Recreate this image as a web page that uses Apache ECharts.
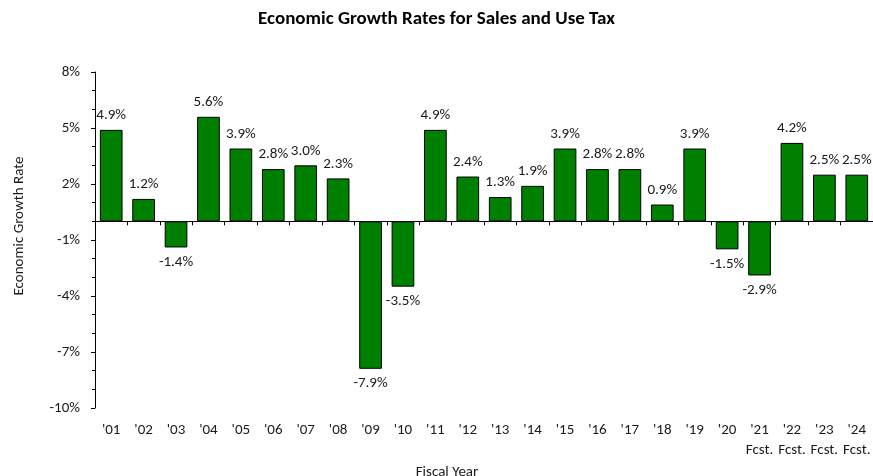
<!DOCTYPE html>
<html>
<head>
<meta charset="utf-8">
<script src="https://cdn.jsdelivr.net/npm/echarts@6/dist/echarts.min.js"></script>
<style>
  html, body { margin: 0; padding: 0; background: #fff; }
  #chart { width: 873px; height: 476px; }
</style>
</head>
<body>
<div id="chart"></div>
<script>
// Fiscal years and annual growth rates (%); '21–'24 are forecasts
const fiscalYears = ["'01", "'02", "'03", "'04", "'05", "'06", "'07", "'08", "'09", "'10",
  "'11", "'12", "'13", "'14", "'15", "'16", "'17", "'18", "'19", "'20",
  "'21", "'22", "'23", "'24"];
const forecastYears = ["'21", "'22", "'23", "'24"];
const growthRates = [4.9, 1.2, -1.4, 5.6, 3.9, 2.8, 3.0, 2.3, -7.9, -3.5,
  4.9, 2.4, 1.3, 1.9, 3.9, 2.8, 2.8, 0.9, 3.9, -1.5,
  -2.9, 4.2, 2.5, 2.5];
const yTicks = { min: -10, max: 8, step: 3 };

const FONT = 'Carlito, Lato, "Liberation Sans", sans-serif';
const TEXT = '#1a1a1a';

const yearLabels = fiscalYears.map(y => forecastYears.includes(y) ? y + '\nFcst.' : y);

const chart = echarts.init(document.getElementById('chart'), null, { renderer: 'canvas' });

chart.setOption({
  animation: false,
  textStyle: { fontFamily: FONT, color: TEXT },
  title: {
    text: 'Economic Growth Rates for Sales and Use Tax',
    left: 'center',
    top: 5,
    padding: [5, 0, 5, 12],
    textStyle: { fontFamily: FONT, fontSize: 19, fontWeight: 'bold', color: '#000' }
  },
  grid: { left: 95, right: 0, top: 72, bottom: 68, outerBoundsMode: 'none', containLabel: false },
  xAxis: [
    {
      // category labels along the bottom of the plot
      type: 'category',
      data: yearLabels,
      position: 'bottom',
      axisLine: { show: false, onZero: false },
      axisTick: { show: false },
      axisLabel: {
        interval: 0, margin: 12, fontFamily: FONT, fontSize: 15, color: TEXT, lineHeight: 20
      },
      name: 'Fiscal Year',
      nameLocation: 'middle',
      nameGap: 50,
      nameTextStyle: { fontFamily: FONT, fontSize: 15, color: TEXT, padding: [0, 74, 0, 0] }
    },
    {
      // baseline drawn through zero
      type: 'category',
      data: yearLabels,
      position: 'bottom',
      axisLine: { show: true, onZero: true, lineStyle: { color: '#000', width: 1 } },
      axisTick: { show: true, length: 4, alignWithLabel: false, lineStyle: { color: '#000' } },
      axisLabel: { show: false }
    }
  ],
  yAxis: {
    type: 'value',
    min: yTicks.min,
    max: yTicks.max,
    interval: yTicks.step,
    axisLine: { show: true, lineStyle: { color: '#000', width: 1 } },
    axisTick: { show: true, length: 4, lineStyle: { color: '#000' } },
    minorTick: { show: true, splitNumber: 3, length: 3, lineStyle: { color: '#000' } },
    splitLine: { show: false },
    axisLabel: {
      formatter: v => v + '%', fontFamily: FONT, fontSize: 15, color: TEXT, margin: 15
    },
    name: 'Economic Growth Rate',
    nameLocation: 'middle',
    nameRotate: 90,
    nameGap: 68,
    nameTextStyle: { fontFamily: FONT, fontSize: 15, color: TEXT, padding: [0, 0, 0, 28] }
  },
  series: [{
    type: 'bar',
    xAxisIndex: 0,
    data: growthRates.map(v => ({
      value: v,
      label: { position: v >= 0 ? 'top' : 'bottom' }
    })),
    barWidth: '70%',
    itemStyle: { color: '#008000', borderColor: '#000', borderWidth: 1 },
    label: {
      show: true,
      distance: 7,
      formatter: p => p.value.toFixed(1) + '%',
      fontFamily: FONT,
      fontSize: 15,
      color: TEXT
    }
  }]
});
</script>
</body>
</html>
